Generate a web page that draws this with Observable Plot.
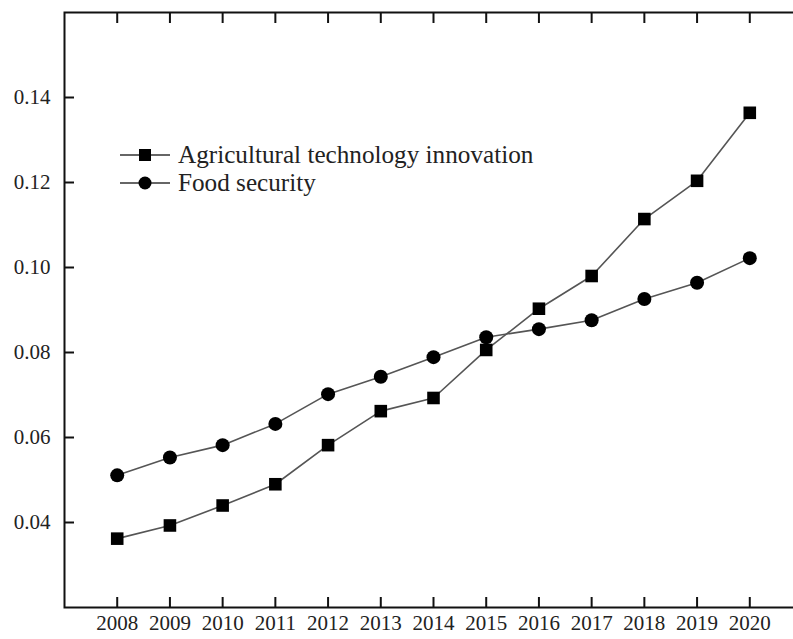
<!DOCTYPE html>
<html>
<head>
<meta charset="utf-8">
<script src="https://cdn.jsdelivr.net/npm/d3@7"></script>
<script src="https://cdn.jsdelivr.net/npm/@observablehq/plot@0.6"></script>
<style>
  html, body { margin: 0; padding: 0; background: #fff; overflow: hidden; }
  #wrap { position: relative; width: 793px; height: 639px; overflow: hidden; }
  #legend { position: absolute; left: 118px; top: 141px; font-family: "Liberation Serif", "Times New Roman", serif; font-size: 25.2px; color: #222; }
  .row { display: flex; align-items: center; height: 28px; }
  .row svg { display: block; margin-right: 4px; }
</style>
</head>
<body>
<div id="wrap"><div id="chart"></div><div id="legend"></div></div>
<script>
const years = [2008, 2009, 2010, 2011, 2012, 2013, 2014, 2015, 2016, 2017, 2018, 2019, 2020];
const agriTech = [0.0362, 0.0393, 0.0440, 0.0490, 0.0582, 0.0662, 0.0693, 0.0806, 0.0903, 0.0980, 0.1114, 0.1204, 0.1364];
const foodSecurity = [0.0511, 0.0553, 0.0582, 0.0632, 0.0702, 0.0743, 0.0789, 0.0836, 0.0855, 0.0876, 0.0926, 0.0964, 0.1022];
const yTicks = [0.04, 0.06, 0.08, 0.10, 0.12, 0.14];
const seriesNames = ["Agricultural technology innovation", "Food security"];

const agriRows = years.map((year, i) => ({year, value: agriTech[i]}));
const foodRows = years.map((year, i) => ({year, value: foodSecurity[i]}));

const chart = Plot.plot({
  width: 802,
  height: 639,
  marginTop: 12,
  marginBottom: 32,
  marginLeft: 64,
  marginRight: 0,
  style: {fontFamily: "'Liberation Serif', 'Times New Roman', serif", fontSize: "21px", color: "#222", maxWidth: "none", overflow: "hidden", background: "#fff"},
  x: {domain: [2007, 2021]},
  y: {domain: [0.02, 0.16]},
  marks: [
    Plot.line(agriRows, {x: "year", y: "value", stroke: "#555", strokeWidth: 1.6}),
    Plot.line(foodRows, {x: "year", y: "value", stroke: "#555", strokeWidth: 1.6}),
    Plot.dot(agriRows, {x: "year", y: "value", symbol: "square", r: 7.1, fill: "#000", stroke: "none"}),
    Plot.dot(foodRows, {x: "year", y: "value", symbol: "circle", r: 7, fill: "#000", stroke: "none"}),
    Plot.axisX(years, {anchor: "bottom", tickSize: -10, tickPadding: 18, strokeWidth: 2, stroke: "#111", tickFormat: d => String(d), label: null}),
    Plot.axisX(years, {anchor: "top", tickSize: -10, strokeWidth: 2, stroke: "#111", tickFormat: () => "", label: null}),
    Plot.axisY(yTicks, {anchor: "left", tickSize: -10, tickPadding: 24, strokeWidth: 2, stroke: "#111", tickFormat: d => d.toFixed(2), label: null}),
    Plot.axisY(yTicks, {anchor: "right", tickSize: -10, strokeWidth: 2, stroke: "#111", tickFormat: () => "", label: null}),
    Plot.frame({stroke: "#111", strokeWidth: 2})
  ]
});
document.getElementById("chart").appendChild(chart);

const legend = document.getElementById("legend");
seriesNames.forEach((name, i) => {
  const row = document.createElement("div");
  row.className = "row";
  const marker = i === 0
    ? '<rect x="21" y="8" width="12" height="12" fill="#000"/>'
    : '<circle cx="27" cy="14" r="6.5" fill="#000"/>';
  row.innerHTML = '<svg width="56" height="28"><line x1="2" y1="14" x2="52" y2="14" stroke="#333" stroke-width="1.6"/>' + marker + '</svg><span>' + name + '</span>';
  legend.appendChild(row);
});
</script>
</body>
</html>
